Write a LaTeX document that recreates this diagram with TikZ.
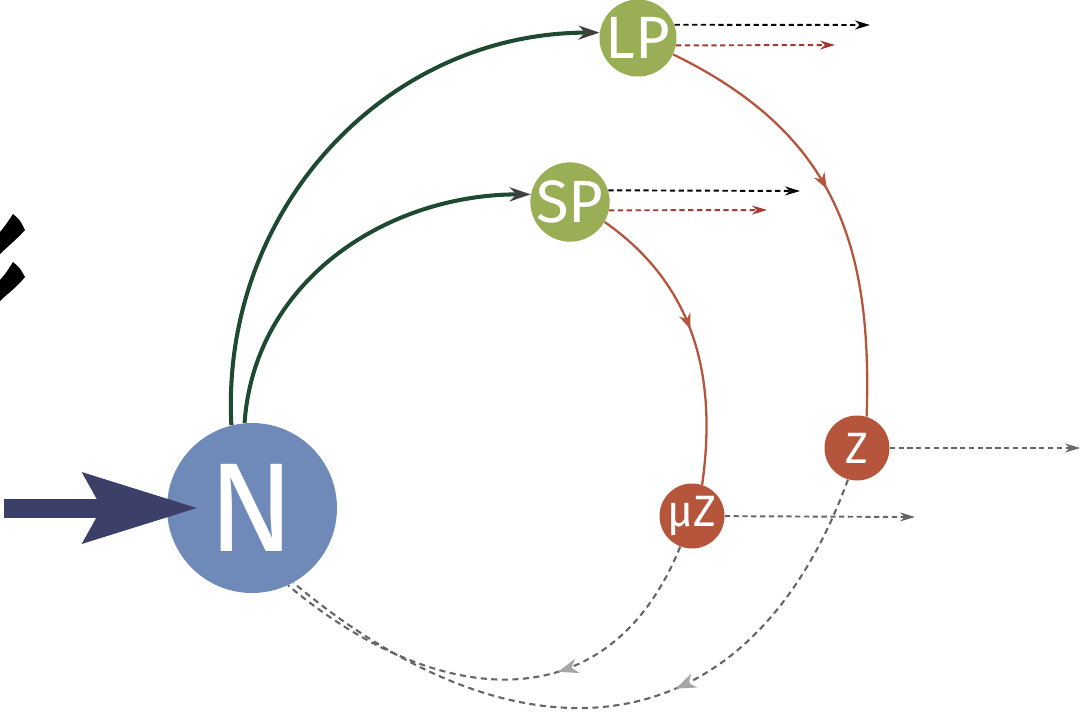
\documentclass[tikz,border=0pt]{standalone}
\usepackage{fontspec}
\setsansfont{Fira Sans}
\usepackage{tikz}
\usetikzlibrary{arrows.meta, decorations.markings}

\definecolor{nblue}{HTML}{6F8AB8}
\definecolor{pgreen}{HTML}{9AAE56}
\definecolor{zred}{HTML}{B4553C}
\definecolor{fgreen}{HTML}{1F4A32}
\definecolor{navy}{HTML}{3C4069}
\definecolor{dred}{HTML}{A33A30}
\definecolor{dgray}{HTML}{666666}

\begin{document}
\begin{tikzpicture}[
        x=0.02cm, y=-0.02cm,
        pool/.style={circle, fill=#1, text=white, inner sep=0pt},
        feed/.style={-{Stealth[length=0.42cm, width=0.28cm, color=darkgray]}, line width=2.3pt, fgreen},
        flow/.style={zred, line width=1.3pt, postaction={decorate},
            decoration={markings, mark=at position #1 with {\arrow{Stealth[length=0.32cm, width=0.24cm]}}}},
        loss/.style={-{Stealth[length=0.3cm, width=0.18cm]}, line width=1.1pt, dash pattern=on 3pt off 2pt},
        back/.style={dgray, line width=1.2pt, dash pattern=on 3.5pt off 2.5pt, postaction={decorate},
            decoration={markings, mark=at position #1 with {\arrow{Stealth[length=0.4cm, width=0.3cm, inset=0.12cm, color=gray!70]}}}}
    ]
        \useasboundingbox (0,0) rectangle (1082,718);

        % cut-off glyph at the left edge
        \fill (13,214) .. controls (20,220) .. (25,230) .. controls (16,240) and (6,248) .. (0,254) -- (0,232) .. controls (5,226) .. cycle;
        \fill (13,262) .. controls (20,268) .. (25,277) .. controls (16,288) and (6,295) .. (0,301) -- (0,280) .. controls (6,273) .. cycle;

        \node[pool=nblue, minimum size=3.4cm, font=\sffamily\fontsize{72}{72}\selectfont] (N) at (252,508) {N};
        \node[pool=pgreen, minimum size=1.54cm, font=\sffamily\fontsize{34}{34}\selectfont] (lp) at (638,38) {LP};
        \node[pool=pgreen, minimum size=1.54cm, font=\sffamily\fontsize{34}{34}\selectfont] (sp) at (570,202) {SP};
        \node[pool=zred, minimum size=1.3cm, font=\sffamily\fontsize{25}{25}\selectfont] (z) at (857,448) {Z};
        \node[pool=zred, minimum size=1.3cm, font=\sffamily\fontsize{25}{25}\selectfont] (muz) at (692,516) {μZ};

        \coordinate (src) at (4,508);
        \coordinate (lpb) at (870,25);
        \coordinate (lpr) at (835,45);
        \coordinate (spb) at (800,191);
        \coordinate (spr) at (767,210);
        \coordinate (zo) at (1080,448);
        \coordinate (muzo) at (915,517);

        \draw[feed] (N.104) to[out=93, in=180, looseness=1.02] (lp.172);
        \draw[feed] (N.95) to[out=86, in=180, looseness=1.0] (sp.169);

        \draw[flow=0.47] (lp.-25) to[out=-26, in=88, looseness=1.1] (z.73);
        \draw[flow=0.47] (sp.-30) to[out=-35, in=82] (muz.72);

        \draw[loss, black] (lp.20) -- (lpb);
        \draw[loss, dred] (lp.-11) -- (lpr);
        \draw[loss, black] (sp.17) -- (spb);
        \draw[loss, dred] (sp.-12) -- (spr);
        \draw[loss, dgray] (z) -- (zo);
        \draw[loss, dgray] (muz) -- (muzo);

        \draw[back=0.38] (muz.-111) to[out=-112, in=-40, looseness=1.25] (N.-65);
        \draw[back=0.4] (z.-106) to[out=-110, in=-40, looseness=1.33] (N.-61);

        \draw[line width=0.38cm, navy, -{Stealth[length=2.3cm, width=1.44cm, inset=0.4cm, line width=0pt]}] (src) -- ([xshift=0.6cm]N.west);
    \end{tikzpicture}
\end{document}
